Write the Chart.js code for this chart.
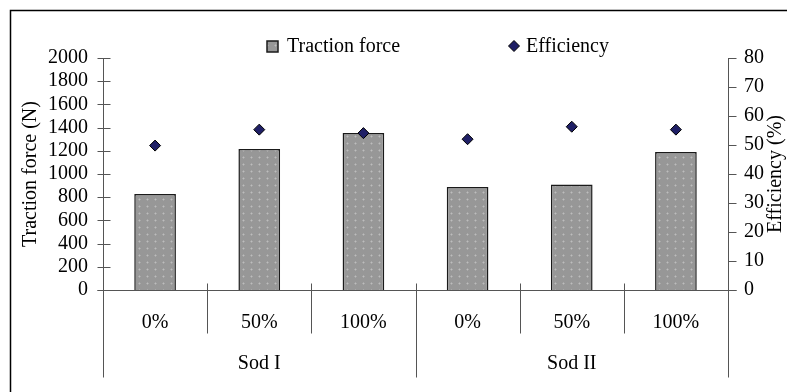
<!DOCTYPE html>
<html>
<head>
<meta charset="utf-8">
<script src="https://cdn.jsdelivr.net/npm/chart.js@4.4.1/dist/chart.umd.min.js"></script>
<style>
  html, body { margin: 0; padding: 0; background: #fff; }
  #wrap { width: 787px; height: 392px; }
</style>
</head>
<body>
<div id="wrap"><canvas id="chart"></canvas></div>
<script>
// data
const subLabels = ['0%', '50%', '100%', '0%', '50%', '100%'];
const groupLabels = ['Sod I', 'Sod II'];
const tractionForce = [828, 1215, 1353, 888, 910, 1190];
const efficiency = [49.8, 55.3, 54.1, 52.0, 56.3, 55.3];
const forceTitle = 'Traction force (N)';
const effTitle = 'Efficiency (%)';

const FONT = '"Liberation Serif", "Times New Roman", serif';
const FS = 20;

const canvas = document.getElementById('chart');
const mainCtx = canvas.getContext('2d');

// dotted grey fill for the bars
function makePattern() {
  const c = document.createElement('canvas');
  c.width = 8; c.height = 7;
  const g = c.getContext('2d');
  g.fillStyle = '#979797';
  g.fillRect(0, 0, 8, 7);
  g.fillStyle = '#a9a9a9';
  g.fillRect(2, 3, 3, 1);
  g.fillRect(3, 2, 1, 3);
  g.fillStyle = '#bdbdbd';
  g.fillRect(3, 3, 1, 1);
  return mainCtx.createPattern(c, 'repeat');
}
const barFill = makePattern();

function line(ctx, x1, y1, x2, y2) {
  ctx.beginPath();
  ctx.moveTo(x1, y1);
  ctx.lineTo(x2, y2);
  ctx.stroke();
}

const decor = {
  id: 'decor',
  beforeDraw(chart) {
    const ctx = chart.ctx;
    ctx.save();
    ctx.strokeStyle = '#000';
    ctx.lineWidth = 1.5;
    ctx.strokeRect(10.5, 10.5, 800, 400);
    ctx.restore();
  },
  afterDraw(chart) {
    const ctx = chart.ctx;
    const { left, right, top, bottom } = chart.chartArea;
    const xs = chart.scales.x, yl = chart.scales.y, yr = chart.scales.y1;
    const L = Math.round(left) + 0.5, R = Math.round(right) + 0.5, B = Math.round(bottom) + 0.5;
    ctx.save();
    ctx.strokeStyle = '#555';
    ctx.lineWidth = 1;
    // axes + ticks
    line(ctx, L, top, L, B);
    yl.ticks.forEach(t => {
      const y = Math.round(yl.getPixelForValue(t.value)) + 0.5;
      line(ctx, L - 6, y, L + 7, y);
    });
    line(ctx, R, top, R, B);
    yr.ticks.forEach(t => {
      const y = Math.round(yr.getPixelForValue(t.value)) + 0.5;
      line(ctx, R, y, R + 8, y);
    });
    line(ctx, L - 6, B, R + 8, B);

    // two-level category axis
    const n = subLabels.length;
    const w = (right - left) / n;
    const per = n / groupLabels.length;
    for (let i = 0; i <= n; i++) {
      const x = Math.round(left + i * w) + 0.5;
      line(ctx, x, B - 7, x, i % per === 0 ? B + 87 : B + 43);
    }
    ctx.fillStyle = '#000';
    ctx.font = FS + 'px ' + FONT;
    ctx.textAlign = 'center';
    ctx.textBaseline = 'middle';
    subLabels.forEach((s, i) => ctx.fillText(s, xs.getPixelForValue(i), bottom + 33));
    groupLabels.forEach((g, j) => {
      const cx = (xs.getPixelForValue(j * per) + xs.getPixelForValue(j * per + per - 1)) / 2;
      ctx.fillText(g, cx, bottom + 74);
    });

    // right title, reading upward
    ctx.save();
    ctx.translate(776, (top + bottom) / 2);
    ctx.rotate(-Math.PI / 2);
    ctx.fillText(effTitle, 0, 0);
    ctx.restore();

    // legend
    ctx.textAlign = 'left';
    ctx.fillStyle = barFill;
    ctx.fillRect(267, 41, 11, 11);
    ctx.strokeStyle = '#1a1a1a';
    ctx.lineWidth = 1.5;
    ctx.strokeRect(267, 41, 11, 11);
    ctx.fillStyle = '#000';
    ctx.fillText(chart.data.datasets[0].label, 287, 47);
    ctx.beginPath();
    ctx.moveTo(514, 40.5); ctx.lineTo(519.5, 46); ctx.lineTo(514, 51.5); ctx.lineTo(508.5, 46);
    ctx.closePath();
    ctx.fillStyle = '#1f1f66';
    ctx.fill();
    ctx.strokeStyle = '#000';
    ctx.lineWidth = 1;
    ctx.stroke();
    ctx.fillStyle = '#000';
    ctx.fillText(chart.data.datasets[1].label, 526, 47);
    ctx.restore();
  }
};

new Chart(canvas, {
  data: {
    labels: subLabels,
    datasets: [
      {
        type: 'bar',
        label: 'Traction force',
        data: tractionForce,
        yAxisID: 'y',
        backgroundColor: barFill,
        borderColor: '#1a1a1a',
        borderWidth: 1.5,
        categoryPercentage: 1,
        barPercentage: 0.4,
        order: 2
      },
      {
        type: 'line',
        label: 'Efficiency',
        data: efficiency,
        yAxisID: 'y1',
        showLine: false,
        pointStyle: 'rectRot',
        pointRadius: 5.5,
        pointBackgroundColor: '#1f1f66',
        pointBorderColor: '#000',
        pointBorderWidth: 1,
        order: 1
      }
    ]
  },
  options: {
    responsive: true,
    maintainAspectRatio: false,
    animation: false,
    layout: { padding: { top: 58, right: 0, bottom: 102, left: 0 } },
    plugins: { legend: { display: false }, tooltip: { enabled: false } },
    scales: {
      x: { display: false, offset: true },
      y: {
        position: 'left',
        min: 0, max: 2000,
        ticks: { stepSize: 200, autoSkip: false, padding: 7, color: '#000', font: { family: FONT, size: FS }, callback: v => String(v) },
        grid: { display: false },
        border: { display: false },
        title: { display: true, text: forceTitle, color: '#000', font: { family: FONT, size: FS }, padding: { top: 19, bottom: 0 } },
        afterFit(scale) { scale.width = 103; }
      },
      y1: {
        position: 'right',
        min: 0, max: 80,
        ticks: { stepSize: 10, autoSkip: false, padding: 8, color: '#000', font: { family: FONT, size: FS }, callback: v => String(v) },
        grid: { display: false },
        border: { display: false },
        afterFit(scale) { scale.width = 59; }
      }
    }
  },
  plugins: [decor]
});
</script>
</body>
</html>
